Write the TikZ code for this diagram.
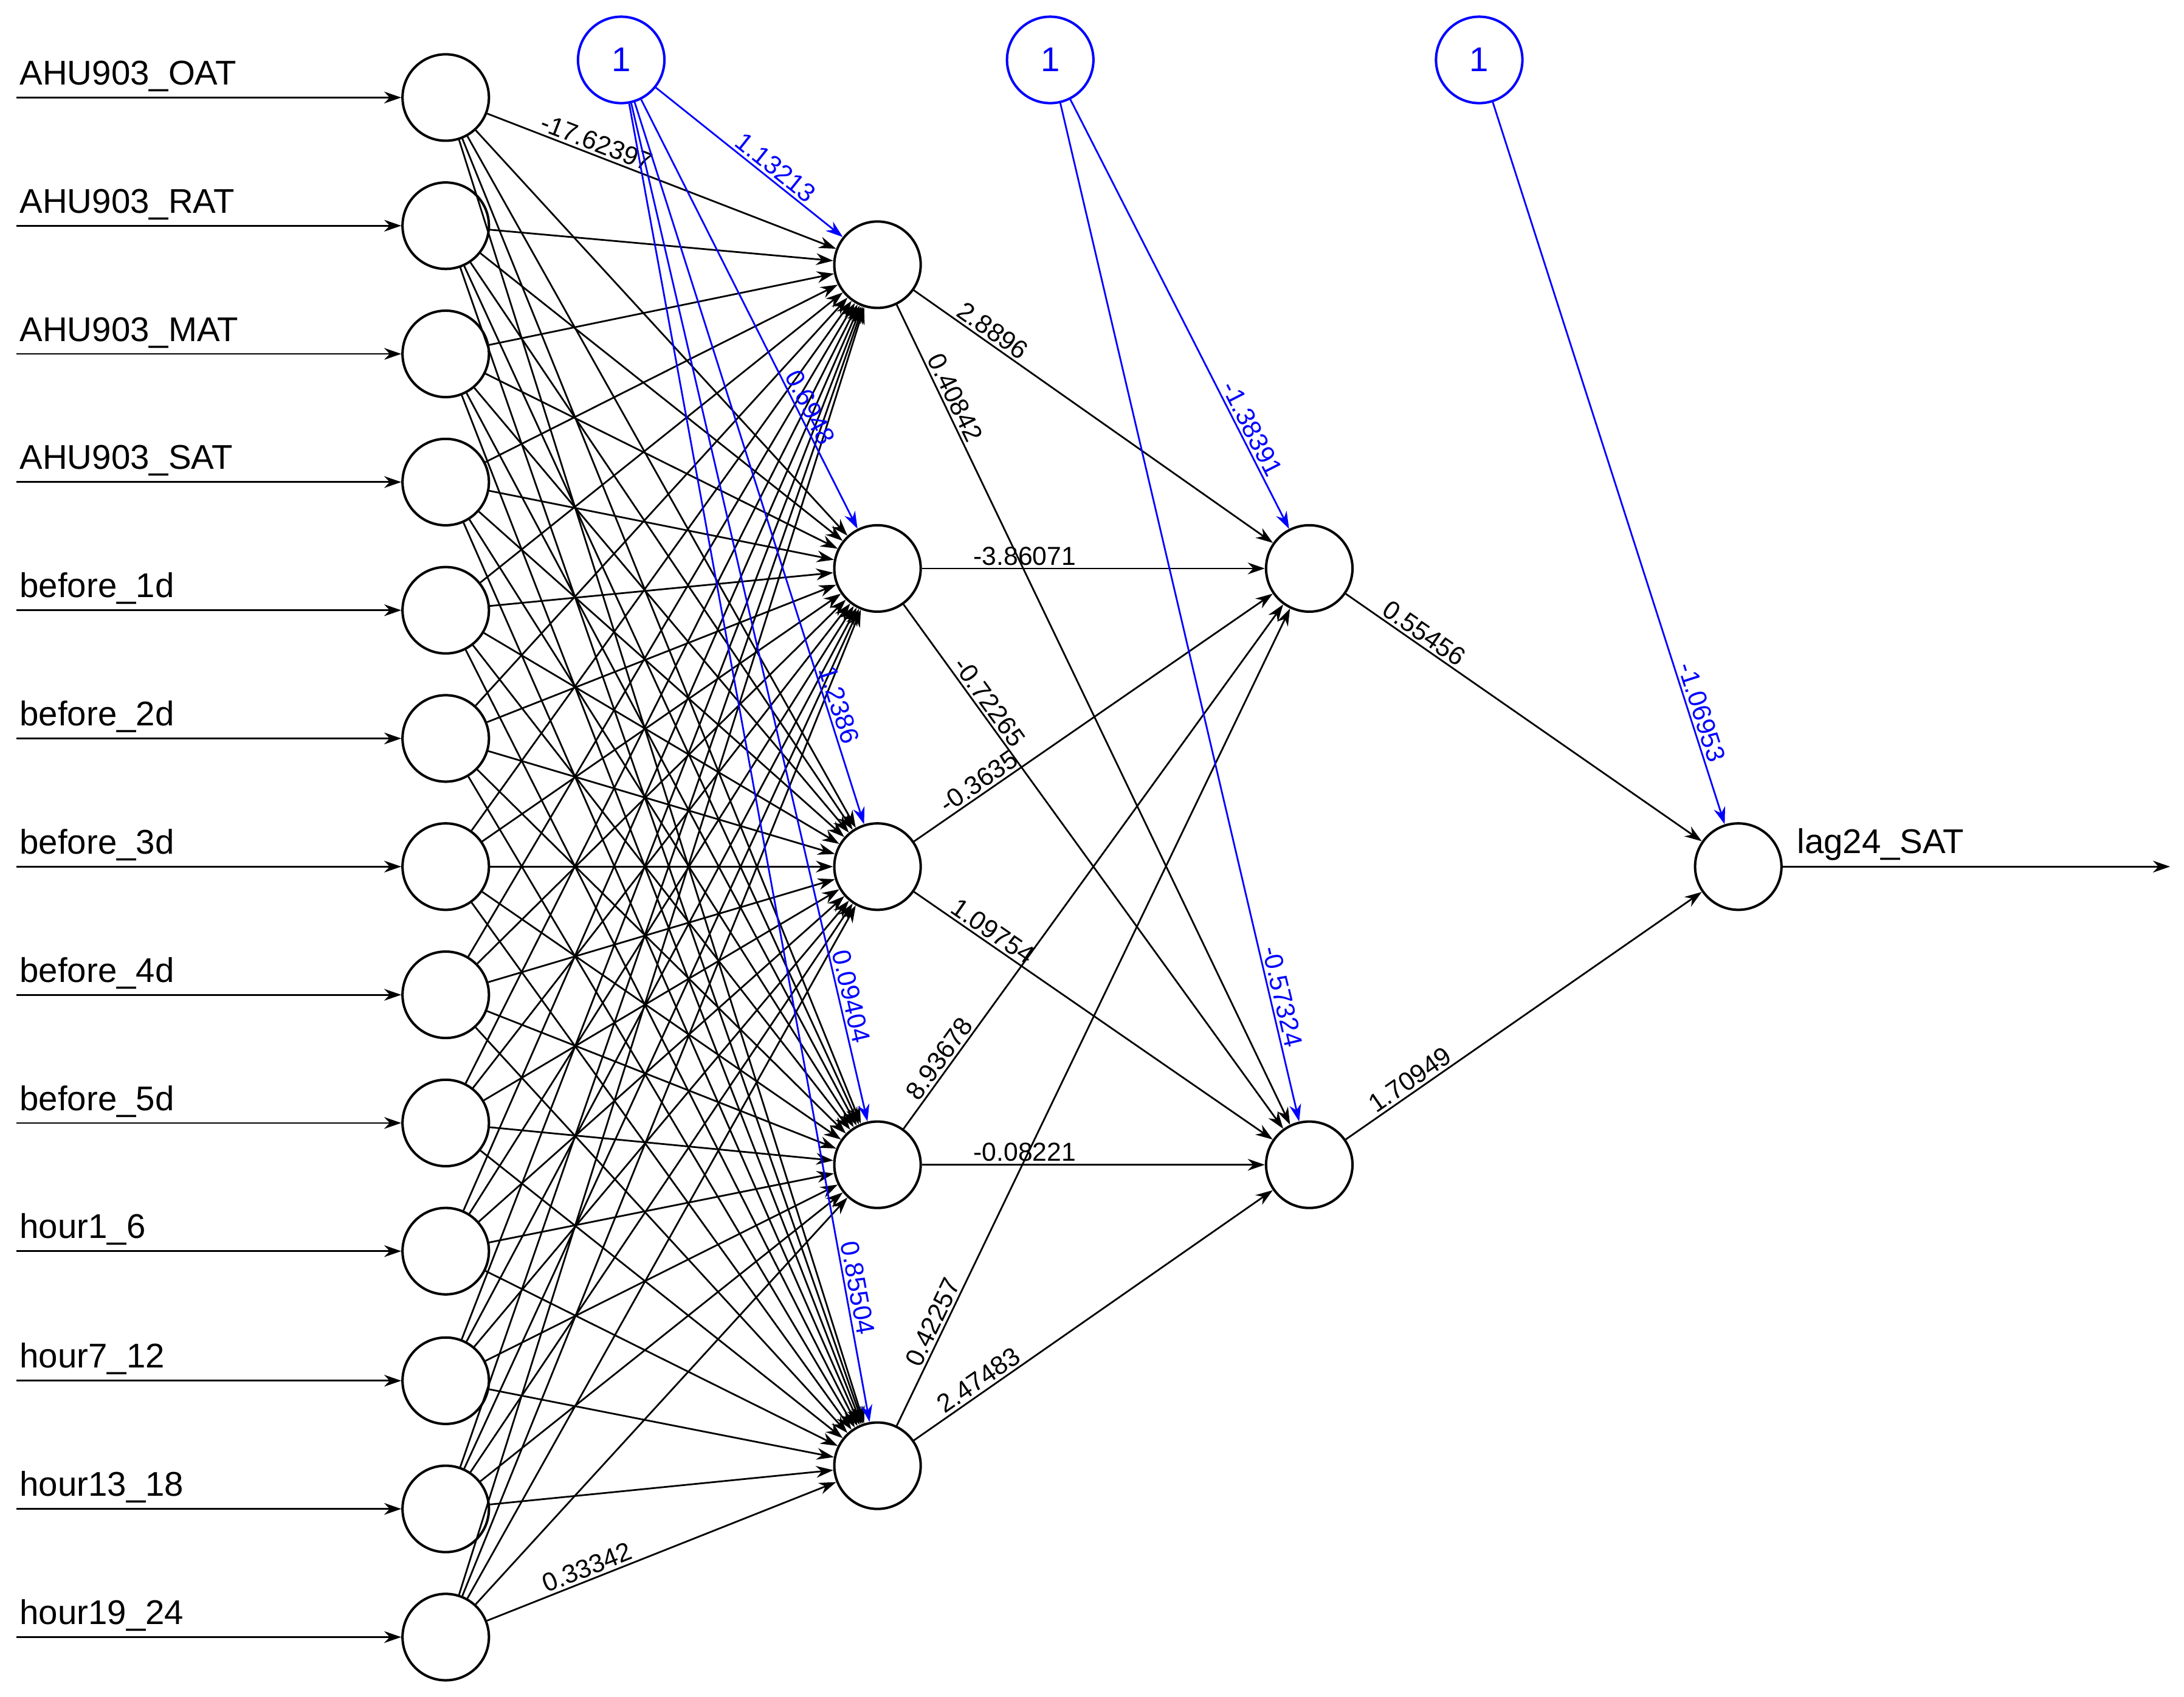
\documentclass[tikz,border=0pt]{standalone}
\usepackage{fontspec}
\setmainfont{Liberation Sans}
\usetikzlibrary{arrows.meta}
\begin{document}
\begin{tikzpicture}[x=0.01cm,y=-0.01cm,
  neu/.style={circle,draw,line width=0.5pt,minimum size=0.62cm,inner sep=0pt},
  bias/.style={neu,draw=blue,text=blue,font=\fontsize{7}{8}\selectfont},
  con/.style={line width=0.35pt,-{Stealth[length=3.5pt,width=2.4pt]}},
  bcon/.style={con,draw=blue},
  wl/.style={font=\fontsize{5.3}{6}\selectfont,sloped,above,inner sep=0.5pt},
  bl/.style={wl,text=blue},
  inl/.style={font=\fontsize{7}{8}\selectfont,anchor=south west,inner sep=1pt}]
\useasboundingbox (0,0) rectangle (1568,1218);
\foreach \n/\y/\t in {1/70/AHU903\_OAT,2/162/AHU903\_RAT,3/254/AHU903\_MAT,4/346/AHU903\_SAT,5/438/before\_1d,6/530/before\_2d,7/622/before\_3d,8/714/before\_4d,9/806/before\_5d,10/898/hour1\_6,11/991/hour7\_12,12/1083/hour13\_18,13/1175/hour19\_24}{
  \node[neu] (i\n) at (320,\y) {};
  \coordinate (s\n) at (12,\y);
  \node[inl] (l\n) at (10,\y) {\t};
  \draw[con] (s\n) -- (i\n);
}
\foreach \n/\y in {1/190,2/408,3/622,4/836,5/1052}{\node[neu] (h\n) at (630,\y) {};}
\node[neu] (o1) at (940,408) {};
\node[neu] (o2) at (940,836) {};
\node[neu] (out) at (1248,622) {};
\node[bias] (b1) at (446,43) {1};
\node[bias] (b2) at (754,43) {1};
\node[bias] (b3) at (1062,43) {1};
\foreach \i in {1,...,13}{\foreach \h in {1,...,5}{\draw[con] (i\i) -- (h\h);}}
\path (i1) -- node[wl,pos=0.3] {-17.62397} (h1);
\path (i13) -- node[wl,pos=0.3] {0.33342} (h5);
\draw[con] (h1) -- node[wl,pos=0.2] {2.8896} (o1);
\draw[con] (h1) -- node[wl,pos=0.12] {0.40842} (o2);
\draw[con] (h2) -- node[wl,pos=0.3] {-3.86071} (o1);
\draw[con] (h2) -- node[wl,pos=0.2] {-0.72265} (o2);
\draw[con] (h3) -- node[wl,pos=0.2] {-0.3635} (o1);
\draw[con] (h3) -- node[wl,pos=0.2] {1.09754} (o2);
\draw[con] (h4) -- node[wl,pos=0.12] {8.93678} (o1);
\draw[con] (h4) -- node[wl,pos=0.3] {-0.08221} (o2);
\draw[con] (h5) -- node[wl,pos=0.12] {0.42257} (o1);
\draw[con] (h5) -- node[wl,pos=0.2] {2.47483} (o2);
\draw[con] (o1) -- node[wl,pos=0.2] {0.55456} (out);
\draw[con] (o2) -- node[wl,pos=0.2] {1.70949} (out);
\draw[bcon] (b1) -- node[bl,pos=0.6] {1.13213} (h1);
\draw[bcon] (b1) -- node[bl,pos=0.73] {0.6948} (h2);
\draw[bcon] (b1) -- node[bl,pos=0.84] {1.2386} (h3);
\draw[bcon] (b1) -- node[bl,pos=0.88] {0.09404} (h4);
\draw[bcon] (b1) -- node[bl,pos=0.9] {0.85504} (h5);
\draw[bcon] (b2) -- node[bl,pos=0.78] {-1.38391} (o1);
\draw[bcon] (b2) -- node[bl,pos=0.88] {-0.57324} (o2);
\draw[bcon] (b3) -- node[bl,pos=0.85] {-1.06953} (out);
\coordinate (e) at (1558,622);
\draw[con] (out) -- (e);
\node[inl] at (1286,622) {lag24\_SAT};
\end{tikzpicture}
\end{document}
